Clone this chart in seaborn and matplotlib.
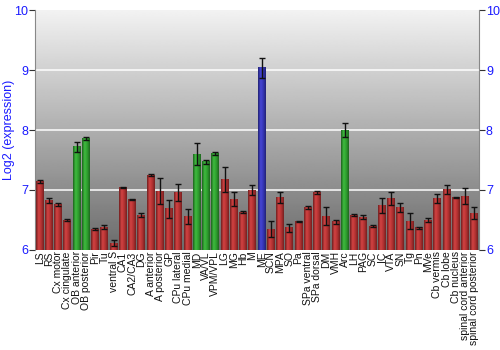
import numpy as np
import pandas as pd
import matplotlib
matplotlib.use("Agg")
import matplotlib.pyplot as plt
import seaborn as sns
from matplotlib.colors import LinearSegmentedColormap

regions = ["LS", "RS", "Cx motor", "Cx cingulate", "OB anterior", "OB posterior", "Pir", "Tu",
           "ventral S", "CA1", "CA2/CA3", "DG", "A anterior", "A posterior", "GP", "CPu lateral",
           "CPu medial", "MD", "VA/VL", "VPM/VPL", "LG", "MG", "Hb", "M", "ME", "SCN", "MPA", "SO",
           "Pa", "SPa ventral", "SPa dorsal", "DM", "VMH", "Arc", "LH", "PAG", "SC", "IC", "VTA",
           "SN", "Tg", "Pn", "MVe", "Cb vermis", "Cb lobe", "Cb nucleus", "spinal cord anterior",
           "spinal cord posterior"]
expression = [7.14, 6.83, 6.76, 6.50, 7.72, 7.86, 6.35, 6.38,
              6.11, 7.04, 6.84, 6.58, 7.25, 6.98, 6.69, 6.96,
              6.56, 7.60, 7.47, 7.61, 7.18, 6.85, 6.63, 7.00, 9.04, 6.35, 6.87, 6.37,
              6.48, 6.71, 6.96, 6.56, 6.47, 8.00, 6.58, 6.55, 6.40, 6.74, 6.86,
              6.71, 6.48, 6.37, 6.50, 6.86, 7.01, 6.88, 6.90,
              6.61]
errors = [0.02, 0.04, 0.03, 0.01, 0.08, 0.02, 0.01, 0.03,
          0.05, 0.01, 0.01, 0.03, 0.02, 0.22, 0.15, 0.14,
          0.12, 0.19, 0.03, 0.02, 0.21, 0.11, 0.02, 0.08, 0.17, 0.13, 0.09, 0.07,
          0.01, 0.03, 0.03, 0.15, 0.03, 0.12, 0.02, 0.03, 0.01, 0.13, 0.11,
          0.07, 0.13, 0.02, 0.03, 0.08, 0.07, 0.01, 0.14,
          0.10]
groups = ["red"] * len(regions)
for name in ["OB anterior", "OB posterior", "MD", "VA/VL", "VPM/VPL", "Arc"]:
    groups[regions.index(name)] = "green"
groups[regions.index("ME")] = "blue"

df = pd.DataFrame({"region": regions, "expr": expression, "err": errors, "group": groups})

base_colors = {"red": "#b33232", "green": "#2f9e2f", "blue": "#3535b5"}

sns.set_style("white")
plt.rcParams['font.family'] = ['Liberation Sans', 'DejaVu Sans']

fig = plt.figure(figsize=(5, 3.5), dpi=100)
ax = fig.add_axes([0.07, 0.286, 0.888, 0.685])

sns.barplot(data=df, x="region", y="expr", hue="group", palette=base_colors,
            dodge=False, width=0.86, legend=False, ax=ax, zorder=3, errorbar=None)

YMIN, YMAX = 6, 10
n = len(regions)

# background gradient
bg = np.linspace(0.95, 0.42, 256).reshape(-1, 1)
ax.imshow(bg, cmap="gray", vmin=0, vmax=1, aspect="auto",
          extent=[-0.5, n - 0.5, YMIN, YMAX], origin="upper", zorder=0)

for yv in [7, 8, 9]:
    ax.axhline(yv, color="white", lw=1.2, zorder=1, alpha=0.9)

# bar gradients
def grad_cmap(hexc):
    c = np.array(matplotlib.colors.to_rgb(hexc))
    dark = c * 0.62
    light = np.clip(c * 1.12 + 0.04, 0, 1)
    return LinearSegmentedColormap.from_list("g", [dark, light, c, dark * 1.05])

gx = np.linspace(0, 1, 64).reshape(1, -1)
for patch in list(ax.patches):
    x0 = patch.get_x()
    w = patch.get_width()
    h = patch.get_height()
    y0 = patch.get_y()
    if w <= 0 or np.isnan(h) or h == 0:
        continue
    idx = int(round(x0 + w / 2))
    grp = groups[idx]
    patch.set_edgecolor("none")
    top = y0 + h
    ax.imshow(gx, cmap=grad_cmap(base_colors[grp]), aspect="auto",
              extent=[x0, x0 + w, YMIN, top], zorder=3.5)

ax.set_xlim(-0.5, n - 0.5)
ax.set_ylim(YMIN, YMAX)

ax.errorbar(np.arange(n), df["expr"], yerr=df["err"], fmt="none",
            ecolor="#111111", elinewidth=1.0, capsize=2.2, capthick=1.0, zorder=5)

ax.set_xlabel("")
ax.set_ylabel("Log2 (expression)", color="#1a1aff", fontsize=9)
ax.yaxis.set_label_coords(-0.044, 0.5)
ax.set_yticks([6, 7, 8, 9, 10])
ax.tick_params(axis="y", which="both", left=True, right=True, labelleft=True, labelright=True,
               labelcolor="#1a1aff", labelsize=9, length=4, width=0.8, direction="out",
               color="#333333", pad=1)
ax.set_xticks(np.arange(n))
ax.set_xticklabels(regions, rotation=90, fontsize=7.5, color="#111111")
ax.tick_params(axis="x", length=0, pad=1)

for s in ["left", "right"]:
    ax.spines[s].set_color("#888888")
    ax.spines[s].set_linewidth(0.8)
ax.spines["top"].set_visible(False)
ax.spines["bottom"].set_visible(False)

fig.savefig("out.png", dpi=100)
